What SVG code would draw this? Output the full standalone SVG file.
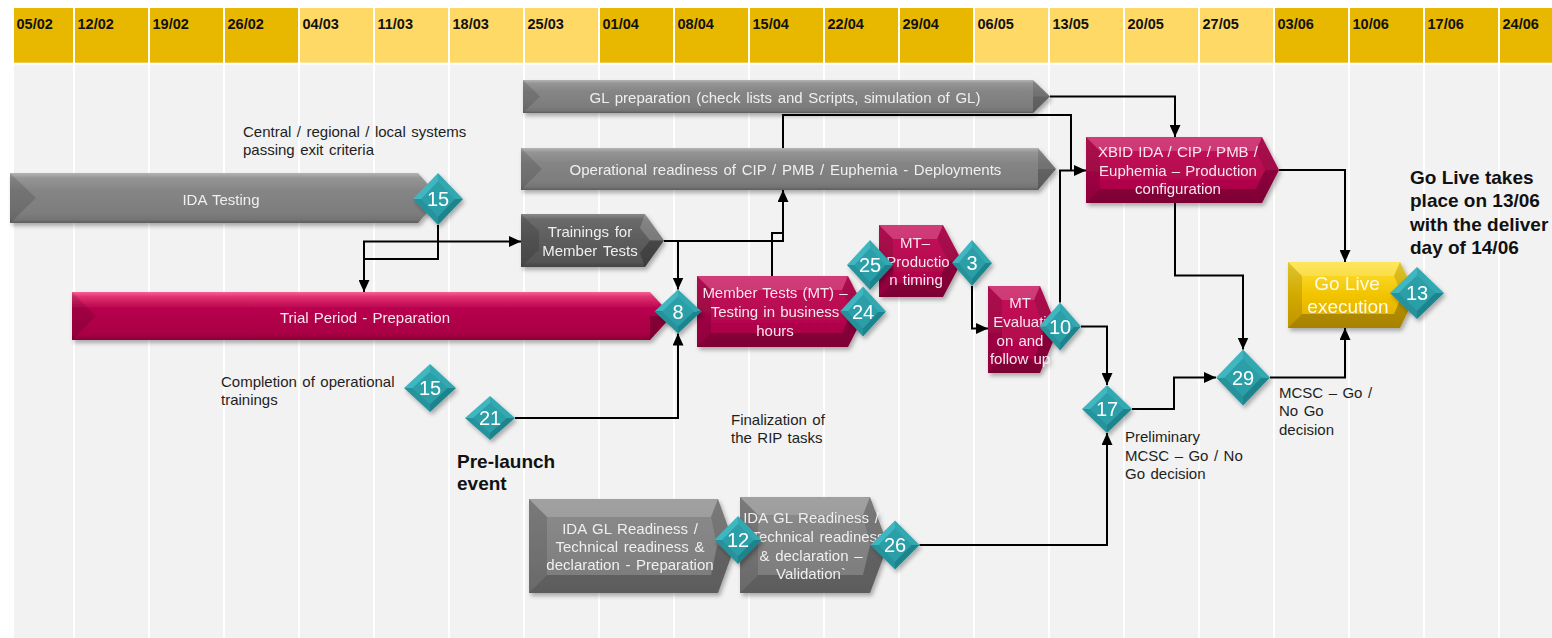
<svg xmlns="http://www.w3.org/2000/svg" width="1552" height="638" viewBox="0 0 1552 638">
<defs>
<style>
text{font-family:"Liberation Sans",Arial,sans-serif}
.hd{font-size:14.5px;font-weight:bold;fill:#111}
.hk{fill:#E8B800}
.hl{fill:#FFD966}
.bd{fill:#F2F2F2}
.lb{font-size:15px;fill:#efefef;text-anchor:middle;word-spacing:1.5px}
.lp{font-size:15px;fill:#f8e6ee;text-anchor:middle;word-spacing:1px}
.lg{font-size:19px;fill:#fffbe6;text-anchor:middle}
.nt{font-size:15px;fill:#1e1e1e;word-spacing:1.3px}
.bg{font-size:19px;font-weight:bold;fill:#111}
.nm{font-size:20px;fill:#fff;text-anchor:middle}
.cn{fill:none;stroke:#000;stroke-width:2;marker-end:url(#ah)}
.cj{fill:none;stroke:#000;stroke-width:2}
.fl{fill:#fff;opacity:.18}
.fd{fill:#000;opacity:.13}
.fdd{fill:#000;opacity:.24}
</style>
<linearGradient id="gGray" x1="0" y1="0" x2="0" y2="1">
<stop offset="0" stop-color="#b4b4b4"/><stop offset=".1" stop-color="#959595"/><stop offset=".35" stop-color="#858585"/><stop offset=".8" stop-color="#7d7d7d"/><stop offset=".93" stop-color="#747474"/><stop offset="1" stop-color="#5c5c5c"/>
</linearGradient>
<linearGradient id="gDark" x1="0" y1="0" x2="0" y2="1">
<stop offset="0" stop-color="#8a8a8a"/><stop offset=".1" stop-color="#6a6a6a"/><stop offset=".5" stop-color="#5c5c5c"/><stop offset=".9" stop-color="#555"/><stop offset="1" stop-color="#444"/>
</linearGradient>
<linearGradient id="gPink" x1="0" y1="0" x2="0" y2="1">
<stop offset="0" stop-color="#f8609a"/><stop offset=".1" stop-color="#e0306e"/><stop offset=".35" stop-color="#b8004e"/><stop offset=".88" stop-color="#a80044"/><stop offset="1" stop-color="#880036"/>
</linearGradient>
<linearGradient id="gPinkBox" x1="0" y1="0" x2="0" y2="1">
<stop offset="0" stop-color="#c8125c"/><stop offset="1" stop-color="#a60044"/>
</linearGradient>
<linearGradient id="gGrayBox" x1="0" y1="0" x2="0" y2="1">
<stop offset="0" stop-color="#8c8c8c"/><stop offset="1" stop-color="#7a7a7a"/>
</linearGradient>
<linearGradient id="gGold" x1="0" y1="0" x2="0" y2="1">
<stop offset="0" stop-color="#ffe23a"/><stop offset=".5" stop-color="#f2c400"/><stop offset="1" stop-color="#dcaa00"/>
</linearGradient>
<filter id="sh" x="-10%" y="-20%" width="125%" height="150%">
<feDropShadow dx="2" dy="3" stdDeviation="2" flood-color="#000" flood-opacity=".3"/>
</filter>
<marker id="ah" viewBox="0 0 12 11" refX="12" refY="5.5" markerWidth="12" markerHeight="11" markerUnits="userSpaceOnUse" orient="auto">
<path d="M0,0 L12,5.5 L0,11 z" fill="#000"/>
</marker>
<g id="dia">
<polygon points="-25,0 0,-25 0,0" fill="#40b7c0"/>
<polygon points="0,-25 25,0 0,0" fill="#33a8b1"/>
<polygon points="25,0 0,25 0,0" fill="#1f848d"/>
<polygon points="0,25 -25,0 0,0" fill="#27929b"/>
<polygon points="-17,0 0,-17 17,0 0,17" fill="#2c9fa8"/>
</g>
</defs>

<g id="grid">
<rect class="hk" x="14" y="8" width="59" height="54.7"/>
<rect class="hk" x="75" y="8" width="73" height="54.7"/>
<rect class="hk" x="150" y="8" width="73" height="54.7"/>
<rect class="hk" x="225" y="8" width="73" height="54.7"/>
<rect class="hl" x="300" y="8" width="73" height="54.7"/>
<rect class="hl" x="375" y="8" width="73" height="54.7"/>
<rect class="hl" x="450" y="8" width="73" height="54.7"/>
<rect class="hl" x="525" y="8" width="73" height="54.7"/>
<rect class="hk" x="600" y="8" width="73" height="54.7"/>
<rect class="hk" x="675" y="8" width="73" height="54.7"/>
<rect class="hk" x="750" y="8" width="73" height="54.7"/>
<rect class="hk" x="825" y="8" width="73" height="54.7"/>
<rect class="hk" x="900" y="8" width="73" height="54.7"/>
<rect class="hl" x="975" y="8" width="73" height="54.7"/>
<rect class="hl" x="1050" y="8" width="73" height="54.7"/>
<rect class="hl" x="1125" y="8" width="73" height="54.7"/>
<rect class="hl" x="1200" y="8" width="73" height="54.7"/>
<rect class="hk" x="1275" y="8" width="73" height="54.7"/>
<rect class="hk" x="1350" y="8" width="73" height="54.7"/>
<rect class="hk" x="1425" y="8" width="73" height="54.7"/>
<rect class="hk" x="1500" y="8" width="52" height="54.7"/>
<rect class="bd" x="14" y="64.7" width="59" height="574"/>
<rect class="bd" x="75" y="64.7" width="73" height="574"/>
<rect class="bd" x="150" y="64.7" width="73" height="574"/>
<rect class="bd" x="225" y="64.7" width="73" height="574"/>
<rect class="bd" x="300" y="64.7" width="73" height="574"/>
<rect class="bd" x="375" y="64.7" width="73" height="574"/>
<rect class="bd" x="450" y="64.7" width="73" height="574"/>
<rect class="bd" x="525" y="64.7" width="73" height="574"/>
<rect class="bd" x="600" y="64.7" width="73" height="574"/>
<rect class="bd" x="675" y="64.7" width="73" height="574"/>
<rect class="bd" x="750" y="64.7" width="73" height="574"/>
<rect class="bd" x="825" y="64.7" width="73" height="574"/>
<rect class="bd" x="900" y="64.7" width="73" height="574"/>
<rect class="bd" x="975" y="64.7" width="73" height="574"/>
<rect class="bd" x="1050" y="64.7" width="73" height="574"/>
<rect class="bd" x="1125" y="64.7" width="73" height="574"/>
<rect class="bd" x="1200" y="64.7" width="73" height="574"/>
<rect class="bd" x="1275" y="64.7" width="73" height="574"/>
<rect class="bd" x="1350" y="64.7" width="73" height="574"/>
<rect class="bd" x="1425" y="64.7" width="73" height="574"/>
<rect class="bd" x="1500" y="64.7" width="52" height="574"/>
<text class="hd" x="16.5" y="29">05/02</text>
<text class="hd" x="77.5" y="29">12/02</text>
<text class="hd" x="152.5" y="29">19/02</text>
<text class="hd" x="227.5" y="29">26/02</text>
<text class="hd" x="302.5" y="29">04/03</text>
<text class="hd" x="377.5" y="29">11/03</text>
<text class="hd" x="452.5" y="29">18/03</text>
<text class="hd" x="527.5" y="29">25/03</text>
<text class="hd" x="602.5" y="29">01/04</text>
<text class="hd" x="677.5" y="29">08/04</text>
<text class="hd" x="752.5" y="29">15/04</text>
<text class="hd" x="827.5" y="29">22/04</text>
<text class="hd" x="902.5" y="29">29/04</text>
<text class="hd" x="977.5" y="29">06/05</text>
<text class="hd" x="1052.5" y="29">13/05</text>
<text class="hd" x="1127.5" y="29">20/05</text>
<text class="hd" x="1202.5" y="29">27/05</text>
<text class="hd" x="1277.5" y="29">03/06</text>
<text class="hd" x="1352.5" y="29">10/06</text>
<text class="hd" x="1427.5" y="29">17/06</text>
<text class="hd" x="1502.5" y="29">24/06</text>
</g>

<g id="notes">
<text class="nt" x="243" y="137">Central / regional / local systems</text>
<text class="nt" x="243" y="155">passing exit criteria</text>
<text class="nt" x="221" y="386.5">Completion of operational</text>
<text class="nt" x="221" y="404.5">trainings</text>
<text class="nt" x="731" y="425">Finalization of</text>
<text class="nt" x="731" y="443">the RIP tasks</text>
<text class="nt" x="1125" y="442">Preliminary</text>
<text class="nt" x="1125" y="460.5">MCSC – Go / No</text>
<text class="nt" x="1125" y="479">Go decision</text>
<text class="nt" x="1279" y="397.5">MCSC – Go /</text>
<text class="nt" x="1279" y="416">No Go</text>
<text class="nt" x="1279" y="434.5">decision</text>
<text class="bg" x="457" y="468">Pre-launch</text>
<text class="bg" x="457" y="490">event</text>
<text class="bg" x="1410" y="184">Go Live takes</text>
<text class="bg" x="1410" y="207">place on 13/06</text>
<text class="bg" x="1410" y="230.5">with the deliver</text>
<text class="bg" x="1410" y="254">day of 14/06</text>
</g>

<g id="ida-testing" filter="url(#sh)">
<polygon points="10,173 418,173 440,198 418,223 10,223" fill="url(#gGray)"/>
<polygon class="fd" points="10,173 36,198 10,223"/>
<text class="lb" x="221" y="204.5">IDA Testing</text>
</g>
<g id="gl-preparation" filter="url(#sh)">
<polygon points="523,80 1033,80 1050,96.5 1033,113 523,113" fill="url(#gGray)"/>
<polygon class="fd" points="523,80 540,96.5 523,113"/>
<polygon class="fd" points="1033,80 1050,96.5 1033,96.5"/>
<polygon class="fdd" points="1033,96.5 1050,96.5 1033,113"/>
<text class="lb" x="785" y="103">GL preparation (check lists and Scripts, simulation of GL)</text>
</g>
<g id="operational-readiness" filter="url(#sh)">
<polygon points="521,148 1038,148 1056,169 1038,190 521,190" fill="url(#gGray)"/>
<polygon class="fd" points="521,148 542,169 521,190"/>
<polygon class="fd" points="1038,148 1056,169 1038,169"/>
<polygon class="fdd" points="1038,169 1056,169 1038,190"/>
<text class="lb" x="785.5" y="175">Operational readiness of CIP / PMB / Euphemia - Deployments</text>
</g>
<g id="trainings" filter="url(#sh)">
<polygon points="521,214 645,214 664,240.5 645,267 521,267" fill="url(#gDark)"/>
<polygon class="fd" points="521,214 539,231 539,250 521,267"/>
<polygon class="fl" points="645,214 664,240.5 650,240.5 640,228"/>
<polygon class="fdd" points="664,240.5 645,267 640,253 650,240.5"/>
<text class="lb" x="590" y="236.7">Trainings for</text>
<text class="lb" x="590" y="255.7">Member Tests</text>
</g>
<g id="trial-period" filter="url(#sh)">
<polygon points="72,292 650,292 672,316 650,340 72,340" fill="url(#gPink)"/>
<polygon class="fd" points="72,292 96,316 72,340"/>
<polygon class="fdd" points="650,316 672,316 650,340"/>
<text class="lp" x="365" y="322.5">Trial Period - Preparation</text>
</g>
<g id="member-tests" filter="url(#sh)">
<polygon points="697,276 848,276 866,311.5 848,347 697,347" fill="url(#gPinkBox)"/>
<polygon class="fl" points="697,276 848,276 842,290 711,290"/>
<polygon class="fd" points="697,276 711,290 711,333 697,347"/>
<polygon class="fdd" points="697,347 711,333 842,333 848,347"/>
<polygon class="fd" points="848,276 866,311.5 852,311.5 842,290"/>
<polygon class="fdd" points="866,311.5 848,347 842,333 852,311.5"/>
<text class="lp" x="775" y="298.3">Member Tests (MT) –</text>
<text class="lp" x="775" y="317.3">Testing in business</text>
<text class="lp" x="775" y="335.8">hours</text>
</g>
<g id="mt-production" filter="url(#sh)">
<polygon points="879,225 943,225 962,261 943,297 879,297" fill="url(#gPinkBox)"/>
<polygon class="fl" points="879,225 943,225 937,239 893,239"/>
<polygon class="fd" points="879,225 893,239 893,283 879,297"/>
<polygon class="fdd" points="879,297 893,283 937,283 943,297"/>
<polygon class="fd" points="943,225 962,261 948,261 937,239"/>
<polygon class="fdd" points="962,261 943,297 937,283 948,261"/>
<text class="lp" x="915" y="247.7">MT–</text>
<text class="lp" x="918" y="266.5">Productio</text>
<text class="lp" x="916" y="285">n timing</text>
</g>
<g id="mt-evaluation" filter="url(#sh)">
<polygon points="988,286 1040,286 1058,329.5 1040,373 988,373" fill="url(#gPinkBox)"/>
<polygon class="fl" points="988,286 1040,286 1034,300 1002,300"/>
<polygon class="fd" points="988,286 1002,300 1002,359 988,373"/>
<polygon class="fdd" points="988,373 1002,359 1034,359 1040,373"/>
<polygon class="fd" points="1040,286 1058,329.5 1044,329.5 1034,300"/>
<polygon class="fdd" points="1058,329.5 1040,373 1034,359 1044,329.5"/>
<text class="lp" x="1020" y="308.3">MT</text>
<text class="lp" x="1020" y="327">Evaluati</text>
<text class="lp" x="1020" y="345.5">on and</text>
<text class="lp" x="1020" y="364">follow up</text>
</g>
<g id="xbid-config" filter="url(#sh)">
<polygon points="1086,137 1262,137 1279,170 1262,203 1086,203" fill="url(#gPinkBox)"/>
<polygon class="fl" points="1086,137 1262,137 1256,151 1100,151"/>
<polygon class="fd" points="1086,137 1100,151 1100,189 1086,203"/>
<polygon class="fdd" points="1086,203 1100,189 1256,189 1262,203"/>
<polygon class="fd" points="1262,137 1279,170 1265,170 1256,151"/>
<polygon class="fdd" points="1279,170 1262,203 1256,189 1265,170"/>
<text class="lp" x="1178" y="157.3">XBID IDA / CIP / PMB /</text>
<text class="lp" x="1178" y="175.6">Euphemia – Production</text>
<text class="lp" x="1178" y="193.8">configuration</text>
</g>
<g id="go-live" filter="url(#sh)">
<polygon points="1288,262 1400,262 1416,295 1400,328 1288,328" fill="url(#gGold)"/>
<polygon class="fl" points="1288,262 1400,262 1394,276 1302,276"/>
<polygon class="fd" points="1288,262 1302,276 1302,314 1288,328"/>
<polygon class="fdd" points="1288,328 1302,314 1394,314 1400,328"/>
<polygon class="fd" points="1400,262 1416,295 1402,295 1394,276"/>
<polygon class="fdd" points="1416,295 1400,328 1394,314 1402,295"/>
<text class="lg" x="1347" y="290">Go Live</text>
<text class="lg" x="1348" y="313">execution</text>
</g>
<g id="ida-gl-preparation" filter="url(#sh)">
<polygon points="529,499 718,499 735,546 718,593 529,593" fill="url(#gGrayBox)"/>
<polygon class="fl" points="529,499 718,499 711,517 547,517"/>
<polygon class="fd" points="529,499 547,517 547,575 529,593"/>
<polygon class="fdd" points="529,593 547,575 711,575 718,593"/>
<polygon class="fd" points="718,499 735,546 717,546 711,517"/>
<polygon class="fdd" points="735,546 718,593 711,575 717,546"/>
<text class="lb" x="630" y="533.6">IDA GL Readiness /</text>
<text class="lb" x="630" y="552">Technical readiness &amp;</text>
<text class="lb" x="630" y="570.3">declaration - Preparation</text>
</g>
<g id="ida-gl-validation" filter="url(#sh)">
<polygon points="740,497 870,497 888,545 870,593 740,593" fill="url(#gGrayBox)"/>
<polygon class="fl" points="740,497 870,497 863,515 758,515"/>
<polygon class="fd" points="740,497 758,515 758,575 740,593"/>
<polygon class="fdd" points="740,593 758,575 863,575 870,593"/>
<polygon class="fd" points="870,497 888,545 870,545 863,515"/>
<polygon class="fdd" points="888,545 870,593 863,575 870,545"/>
<text class="lb" x="811" y="523">IDA GL Readiness /</text>
<text class="lb" x="818" y="542">Technical readiness</text>
<text class="lb" x="811" y="560.5">&amp; declaration –</text>
<text class="lb" x="811" y="579.3">Validation`</text>
</g>

<g id="connectors">
<path class="cn" d="M438,225 V259 H364 V292"/>
<path class="cn" d="M364,259 V241.5 H521"/>
<path class="cn" d="M664,241 H678 V289.5"/>
<path class="cn" d="M678,241 H783 V190"/>
<path class="cj" d="M772,276 V233 H783"/>
<path class="cj" d="M783,148 V115 H1071 V170.5"/>
<path class="cn" d="M1060,302.5 V170.5 H1086"/>
<path class="cn" d="M1050,96.5 H1175 V137"/>
<path class="cn" d="M1279,170 H1345 V262"/>
<path class="cn" d="M1175,203 V275.5 H1243 V349.5"/>
<path class="cn" d="M1270,377.5 H1345 V328"/>
<path class="cn" d="M1132,409 H1174 V377.5 H1216"/>
<path class="cn" d="M1081,326.5 H1107 V385"/>
<path class="cn" d="M919.5,545 H1107 V433"/>
<path class="cn" d="M972,286 V328.5 H988"/>
<path class="cn" d="M515,418 H678 V333.5"/>
</g>

<g id="m15-ida" filter="url(#sh)"><use href="#dia" transform="translate(438,199) scale(1,1.04)"/><text class="nm" x="438" y="206">15</text></g>
<g id="m8" filter="url(#sh)"><use href="#dia" transform="translate(678,311.5) scale(.94,.88)"/><text class="nm" x="678" y="318.5">8</text></g>
<g id="m25" filter="url(#sh)"><use href="#dia" transform="translate(870,265) scale(.92,1)"/><text class="nm" x="870" y="272">25</text></g>
<g id="m24" filter="url(#sh)"><use href="#dia" transform="translate(863,311.5) scale(.92,1)"/><text class="nm" x="863" y="318.5">24</text></g>
<g id="m3" filter="url(#sh)"><use href="#dia" transform="translate(972,263) scale(.8,.92)"/><text class="nm" x="972" y="270">3</text></g>
<g id="m10" filter="url(#sh)"><use href="#dia" transform="translate(1060,326.5) scale(.84,.96)"/><text class="nm" x="1060" y="333.5">10</text></g>
<g id="m17" filter="url(#sh)"><use href="#dia" transform="translate(1107,409) scale(1,.96)"/><text class="nm" x="1107" y="416">17</text></g>
<g id="m29" filter="url(#sh)"><use href="#dia" transform="translate(1243,377.5) scale(1.08,1.12)"/><text class="nm" x="1243" y="384.5">29</text></g>
<g id="m13" filter="url(#sh)"><use href="#dia" transform="translate(1417,293) scale(1.08,1.04)"/><text class="nm" x="1417" y="300">13</text></g>
<g id="m15-training" filter="url(#sh)"><use href="#dia" transform="translate(430,388) scale(1.04,.96)"/><text class="nm" x="430" y="395">15</text></g>
<g id="m21" filter="url(#sh)"><use href="#dia" transform="translate(490,418) scale(1,.88)"/><text class="nm" x="490" y="425">21</text></g>
<g id="m12" filter="url(#sh)"><use href="#dia" transform="translate(738,540) scale(.94,.96)"/><text class="nm" x="738" y="547">12</text></g>
<g id="m26" filter="url(#sh)"><use href="#dia" transform="translate(895,545) scale(.98,.98)"/><text class="nm" x="895" y="552">26</text></g>
</svg>
